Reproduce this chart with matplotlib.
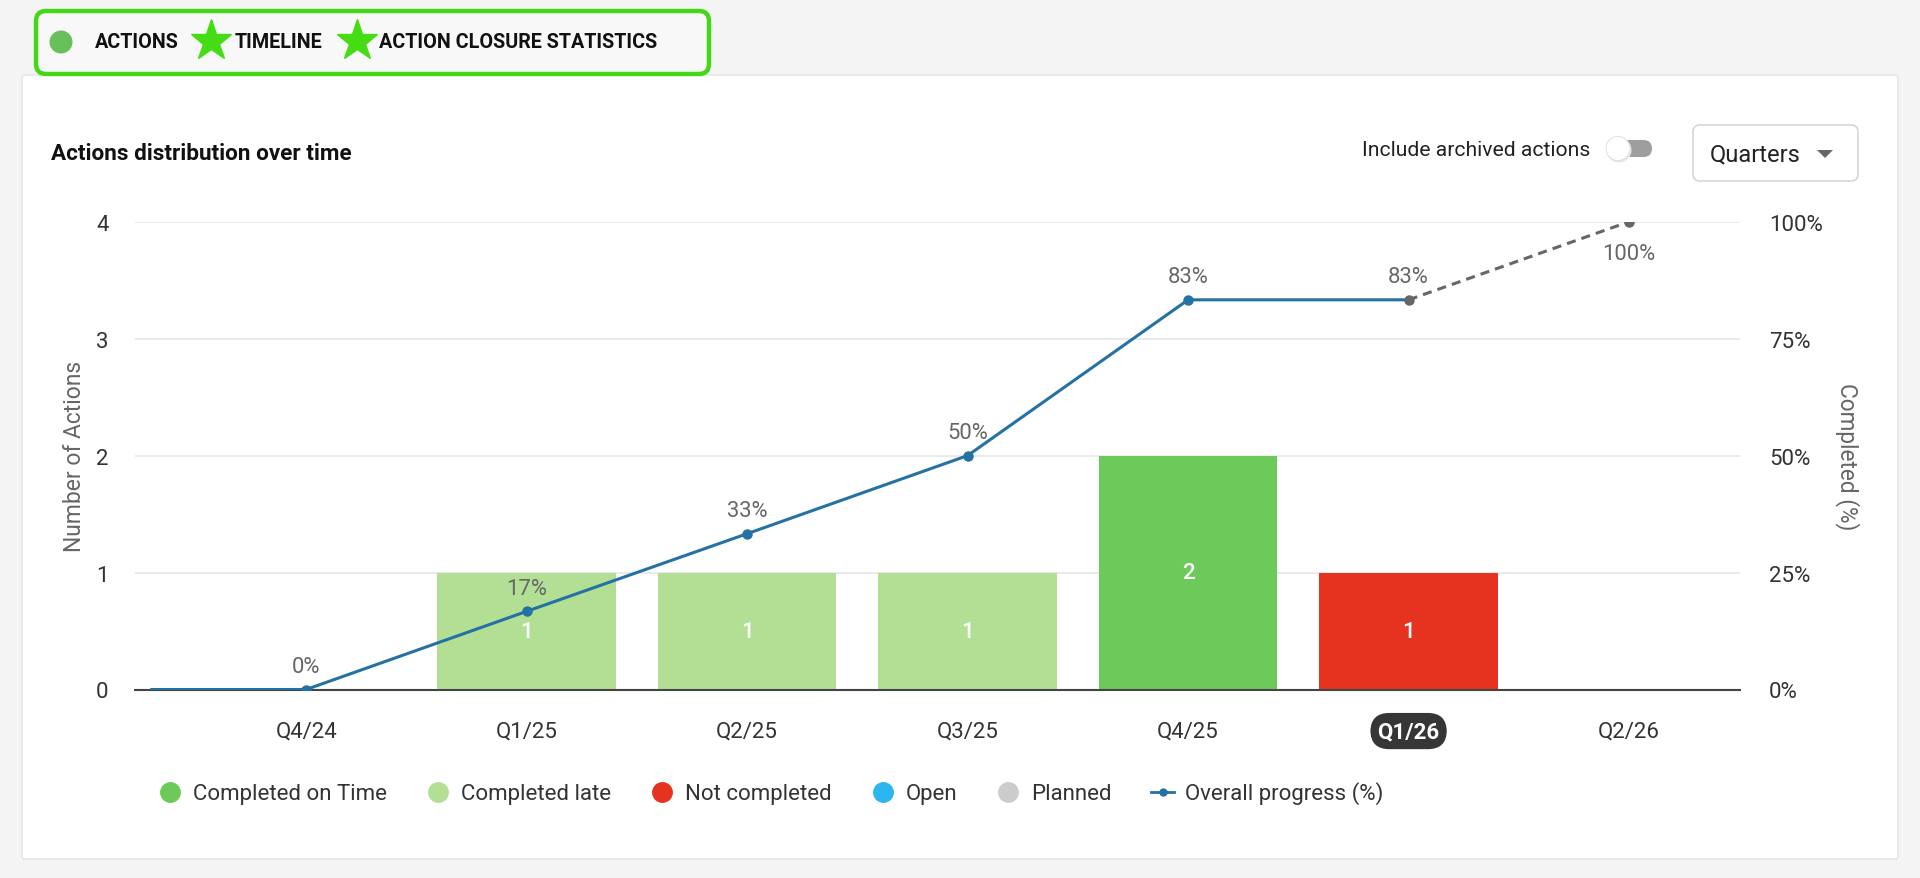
import matplotlib
matplotlib.use("Agg")
import matplotlib.pyplot as plt
from matplotlib.patches import FancyBboxPatch, Circle, Polygon
from matplotlib.lines import Line2D
import numpy as np

plt.rcParams['font.family'] = ['Roboto', 'DejaVu Sans']

# ---------------- data ----------------
categories = ["Q4/24", "Q1/25", "Q2/25", "Q3/25", "Q4/25", "Q1/26", "Q2/26"]
completed_on_time = [0, 0, 0, 0, 2, 0, 0]
completed_late = [0, 1, 1, 1, 0, 0, 0]
not_completed = [0, 0, 0, 0, 0, 1, 0]
open_actions = [0, 0, 0, 0, 0, 0, 0]
planned = [0, 0, 0, 0, 0, 0, 0]
overall_progress = [0, 16.7, 33.3, 50, 83.3, 83.3, 100]   # %
current_index = 5          # Q1/26 is the current quarter
lead_in_x = -0.7           # progress line begins before first quarter

series_names = ["Completed on Time", "Completed late", "Not completed", "Open", "Planned"]
series_values = [completed_on_time, completed_late, not_completed, open_actions, planned]
series_colors = ["#6cca5a", "#b3df95", "#e5331f", "#2cb6ee", "#cccccc"]
line_color = "#2471a3"
proj_color = "#666666"

header_items = ["ACTIONS", "TIMELINE", "ACTION CLOSURE STATISTICS"]

W, H = 1920, 879
fig = plt.figure(figsize=(W / 100, H / 100), dpi=100)
fig.patch.set_facecolor("#f4f4f4")

# overlay axes in pixel coordinates
bg = fig.add_axes([0, 0, 1, 1], zorder=-1)
bg.set_xlim(0, W)
bg.set_ylim(H, 0)
bg.axis("off")

# card
bg.add_patch(FancyBboxPatch((22, 76), 1876, 784, boxstyle="round,pad=0,rounding_size=3",
                            fc="white", ec="#e2e2e2", lw=1))
# header box
bg.add_patch(FancyBboxPatch((36, 12), 673, 63, boxstyle="round,pad=0,rounding_size=10",
                            fc="#f8f8f8", ec="#43d814", lw=3.2))
bg.add_patch(Circle((61, 43), 11.5, fc="#68c05a", ec="none"))
hfs = 14.2
bg.text(95, 43, header_items[0], fontsize=hfs, fontweight="bold", color="#111111",
        va="center", ha="left")
bg.plot([211], [42], marker="*", ms=31, color="#45dc14", mec="#45dc14")
bg.text(235, 43, header_items[1], fontsize=hfs, fontweight="bold", color="#111111",
        va="center", ha="left")
bg.plot([357], [42], marker="*", ms=31, color="#45dc14", mec="#45dc14")
bg.text(379, 43, header_items[2], fontsize=hfs, fontweight="bold", color="#111111",
        va="center", ha="left")

# title
bg.text(51, 160, "Actions distribution over time", fontsize=16.2, fontweight="bold",
        color="#111111", va="baseline", ha="left")

# toggle
bg.text(1590, 150, "Include archived actions", fontsize=15.2, color="#222222",
        va="center", ha="right")
bg.add_patch(FancyBboxPatch((1612, 141), 40, 17, boxstyle="round,pad=0,rounding_size=8.5",
                            fc="#9e9e9e", ec="none"))
bg.add_patch(Circle((1619, 151), 12.5, fc="#e6e6e6", ec="none"))
bg.add_patch(Circle((1618, 149.5), 12, fc="white", ec="#dddddd", lw=0.6))

# dropdown
bg.add_patch(FancyBboxPatch((1693, 126), 165, 56, boxstyle="round,pad=0,rounding_size=7",
                            fc="white", ec="#cfcfcf", lw=1))
bg.text(1710, 155, "Quarters", fontsize=17, color="#222222", va="center", ha="left")
bg.add_patch(Polygon([(1817, 151), (1833, 151), (1825, 159)], closed=True,
                     fc="#666666", ec="none"))

# ---------------- main chart ----------------
left, right, top, bottom = 135, 1740, 222.7, 690.5
ax = fig.add_axes([left / W, 1 - bottom / H, (right - left) / W, (bottom - top) / H])
ax.set_facecolor("none")
x = np.arange(len(categories))
ax.set_xlim(-0.776, 6.503)
ax.set_ylim(0, 4)

fs = 16
bottoms = np.zeros(len(categories))
for name, vals, col in zip(series_names, series_values, series_colors):
    vals = np.array(vals, dtype=float)
    ax.bar(x, vals, width=0.81, bottom=bottoms, color=col, zorder=2, label=name)
    for xi, v, b in zip(x, vals, bottoms):
        if v > 0:
            ax.text(xi, b + v / 2, f"{int(v)}", ha="center", va="center", color="white",
                    fontsize=fs, fontweight="medium", zorder=3)
    bottoms += vals

ax.set_yticks([0, 1, 2, 3, 4])
ax.grid(axis="y", color="#e6e6e6", lw=1.2, zorder=0)
ax.set_axisbelow(True)
for s in ["left", "right", "top"]:
    ax.spines[s].set_visible(False)
ax.spines["bottom"].set_color("#444444")
ax.spines["bottom"].set_linewidth(1.5)
ax.spines["bottom"].set_zorder(4)
ax.tick_params(axis="y", length=0, pad=19, labelsize=fs, labelcolor="#333333")
ax.tick_params(axis="x", length=0, pad=22, labelsize=fs, labelcolor="#333333")
ax.set_xticks(x)
ax.set_xticklabels(categories)
cur = ax.get_xticklabels()[current_index]
cur.set_color("white")
cur.set_fontweight("bold")
cur.set_bbox(dict(boxstyle="round,pad=0.32,rounding_size=0.85", fc="#363636", ec="none"))
ax.set_ylabel("Number of Actions", fontsize=16.5, color="#666666")
ax.yaxis.set_label_coords((86 - left) / (right - left), 0.5)

ax2 = ax.twinx()
ax2.set_ylim(0, 100)
ax2.set_yticks([0, 25, 50, 75, 100])
ax2.set_yticklabels([f"{t}%" for t in [0, 25, 50, 75, 100]])
for s in ["left", "right", "top", "bottom"]:
    ax2.spines[s].set_visible(False)
ax2.tick_params(axis="y", length=0, pad=21, labelsize=fs, labelcolor="#333333")
ax2.set_ylabel("Completed (%)", fontsize=16.3, color="#666666", rotation=270)
ax2.yaxis.set_label_coords((1860 - left) / (right - left), 0.5)

# progress line (actual)
px = [lead_in_x] + list(x[:current_index + 1])
py = [overall_progress[0]] + overall_progress[:current_index + 1]
ax2.plot(px, py, color=line_color, lw=2.2, zorder=5)
ax2.plot(x[:current_index], overall_progress[:current_index], "o", color=line_color,
         ms=6.5, zorder=6)
# projection
ax2.plot(x[current_index:], overall_progress[current_index:], color=proj_color, lw=2.2,
         ls=(0, (3, 2)), marker="o", ms=6.5, zorder=6)
for xi, v in zip(x, overall_progress):
    if v >= 100:
        off, va = -15, "top"
    else:
        off, va = 9, "bottom"
    ax2.annotate(f"{round(v)}%", (xi, v), xytext=(0, off), textcoords="offset points",
                 ha="center", va=va, fontsize=15.8, color="#666666", zorder=7)

# legend
handles = [Line2D([], [], ls="none", marker="o", ms=14, color=c) for c in series_colors]
handles.append(Line2D([], [], color=line_color, lw=2, marker="o", ms=5))
labels = series_names + ["Overall progress (%)"]
fig.legend(handles, labels, loc="center", bbox_to_anchor=(771 / W, 1 - 794 / H), ncol=6,
           frameon=False, fontsize=fs, handlelength=1.05, handletextpad=0.5,
           columnspacing=1.78, labelcolor="#333333")

fig.savefig("out.png", dpi=100, facecolor=fig.get_facecolor())
